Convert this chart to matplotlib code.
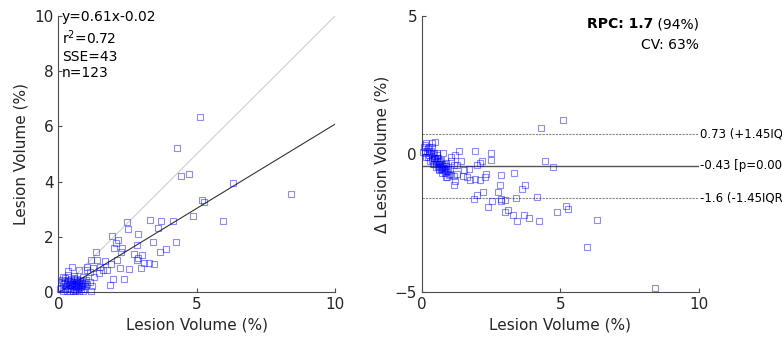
import numpy as np
import matplotlib
matplotlib.use("Agg")
import matplotlib.pyplot as plt
from matplotlib.offsetbox import TextArea, HPacker, AnchoredOffsetbox

# lesion volume (%) : reference (x) and measured (y)
ref_vol = [
    4.44, 4.72, 6.32, 8.40, 5.20, 5.26, 5.95, 4.86, 4.14, 3.71,
    3.31, 3.60, 4.24, 3.88, 3.67, 3.41, 2.86, 2.83, 2.49, 2.50,
    1.92, 2.16, 2.09, 2.30, 2.00, 2.27, 2.74, 3.01, 2.86, 2.85,
    3.10, 3.28, 3.44, 2.98, 2.54, 2.22, 2.38, 1.97, 1.87, 1.34,
    1.19, 1.40, 1.68, 2.10, 1.90, 1.50, 1.62, 1.75, 1.48, 1.26,
    1.04, 1.04, 1.15, 1.27, 1.15, 1.21, 1.16, 0.87, 0.75, 0.48,
    0.36, 0.56, 4.29, 5.10,
    0.08, 0.10, 0.12, 0.15, 0.18, 0.20, 0.22, 0.25, 0.27, 0.30,
    0.30, 0.33, 0.35, 0.37, 0.40, 0.40, 0.42, 0.45, 0.45, 0.48,
    0.50, 0.52, 0.53, 0.55, 0.57, 0.58, 0.60, 0.62, 0.63, 0.65,
    0.66, 0.68, 0.70, 0.71, 0.72, 0.74, 0.75, 0.77, 0.78, 0.80,
    0.82, 0.84, 0.86, 0.88, 0.90, 0.92, 0.95, 0.97, 1.00, 1.02,
    0.15, 0.25, 0.35, 0.55, 0.60, 0.68, 0.05, 0.45, 0.85,
]
meas_vol = [
    4.20, 4.26, 3.94, 3.55, 3.33, 3.25, 2.57, 2.75, 2.58, 2.57,
    2.62, 2.33, 1.82, 1.56, 1.46, 1.82, 2.09, 1.69, 2.53, 2.27,
    2.02, 1.90, 1.78, 1.58, 1.61, 1.45, 1.37, 1.34, 1.24, 1.16,
    1.06, 1.06, 1.01, 0.87, 0.82, 0.86, 0.47, 0.47, 0.25, 1.44,
    1.16, 1.16, 1.13, 1.16, 1.00, 0.92, 0.80, 0.79, 0.68, 0.86,
    0.92, 0.80, 0.74, 0.53, 0.37, 0.22, 0.05, 0.02, 0.80, 0.92,
    0.77, 0.58, 5.22, 6.34,
    0.35, 0.15, 0.45, 0.05, 0.28, 0.40, 0.10, 0.50, 0.22, 0.35,
    0.05, 0.45, 0.15, 0.30, 0.40, 0.02, 0.25, 0.10, 0.48, 0.33,
    0.20, 0.05, 0.38, 0.28, 0.12, 0.45, 0.22, 0.32, 0.08, 0.18,
    0.40, 0.27, 0.15, 0.35, 0.22, 0.05, 0.30, 0.18, 0.42, 0.25,
    0.12, 0.32, 0.20, 0.55, 0.28, 0.10, 0.38, 0.22, 0.45, 0.30,
    0.55, 0.32, 0.60, 0.52, 0.02, 0.48, 0.12, 0.30, 0.40,
]

fit_slope = 0.61
fit_icpt = -0.02
stats_lines = ["y=0.61x-0.02", r"r$^2$=0.72", "SSE=43", "n=123"]

# Bland-Altman limits
loa_upper = 0.73
loa_mean = -0.43
loa_lower = -1.6
loa_labels = ["0.73 (+1.45IQR)", "-0.43 [p=0.000]", "-1.6 (-1.45IQR)"]

txt_col = "#262626"
ax_col = "#4d4d4d"
mk_col = (0.0, 0.0, 1.0, 0.45)

x = np.array(ref_vol)
y = np.array(meas_vol)
diff = y - x

fig = plt.figure(figsize=(7.82, 3.41), dpi=100)
ax1 = fig.add_axes([0.0748, 0.1437, 0.3536, 0.8094])
ax2 = fig.add_axes([0.5396, 0.1437, 0.3542, 0.8094])


def style_axes(ax):
    for s in ["top", "right"]:
        ax.spines[s].set_visible(False)
    for s in ["left", "bottom"]:
        ax.spines[s].set_color(ax_col)
        ax.spines[s].set_linewidth(0.8)
    ax.tick_params(direction="in", length=3, colors=ax_col, labelcolor=txt_col,
                   labelsize=11, width=0.8)
    ax.set_xlim(0, 10)
    ax.set_xticks([0, 5, 10])


# left: correlation
style_axes(ax1)
ax1.set_ylim(0, 10)
ax1.set_yticks(np.arange(0, 11, 2))
xx = np.array([0, 10])
ax1.plot(xx, xx, color="#cfcfcf", lw=0.8, zorder=1)
ax1.plot(xx, fit_slope * xx + fit_icpt, color="#333333", lw=0.8, zorder=2)
ax1.plot(x, y, "s", mfc="none", mec=mk_col, ms=5, mew=0.8, zorder=3, clip_on=False)
ax1.set_xlabel("Lesion Volume (%)", fontsize=11, color=txt_col, labelpad=4)
ax1.set_ylabel("Lesion Volume (%)", fontsize=11, color=txt_col, labelpad=4)
ax1.text(0.012, 1.02, "\n".join(stats_lines), transform=ax1.transAxes,
         ha="left", va="top", fontsize=10, color="black", linespacing=1.25)

# right: Bland-Altman
style_axes(ax2)
ax2.set_ylim(-5, 5)
ax2.set_yticks([-5, 0, 5])
ax2.axhline(loa_upper, color="#888888", lw=0.8, ls=(0, (2, 1)))
ax2.axhline(loa_mean, color="#555555", lw=1.0)
ax2.axhline(loa_lower, color="#888888", lw=0.8, ls=(0, (2, 1)))
ax2.plot(x, diff, "s", mfc="none", mec=mk_col, ms=5, mew=0.8, zorder=3, clip_on=False)
for val, lab in zip([loa_upper, loa_mean, loa_lower], loa_labels):
    ax2.text(10.05, val, lab, ha="left", va="center", fontsize=8.5, color="black",
             clip_on=False)
ax2.set_xlabel("Lesion Volume (%)", fontsize=11, color=txt_col, labelpad=4)
ax2.set_ylabel("Δ Lesion Volume (%)", fontsize=11, color=txt_col, labelpad=4)

rpc_box = HPacker(children=[
    TextArea("RPC: 1.7", textprops=dict(fontsize=10, weight="bold", color="black")),
    TextArea(" (94%)", textprops=dict(fontsize=10, color="black")),
], align="baseline", pad=0, sep=0)
anch = AnchoredOffsetbox(loc="upper right", child=rpc_box, pad=0, borderpad=0,
                         frameon=False, bbox_to_anchor=(10, 4.95),
                         bbox_transform=ax2.transData)
ax2.add_artist(anch)
ax2.text(10, 4.2, "CV: 63%", ha="right", va="top", fontsize=10, color="black")

fig.savefig("out.png", dpi=100)
